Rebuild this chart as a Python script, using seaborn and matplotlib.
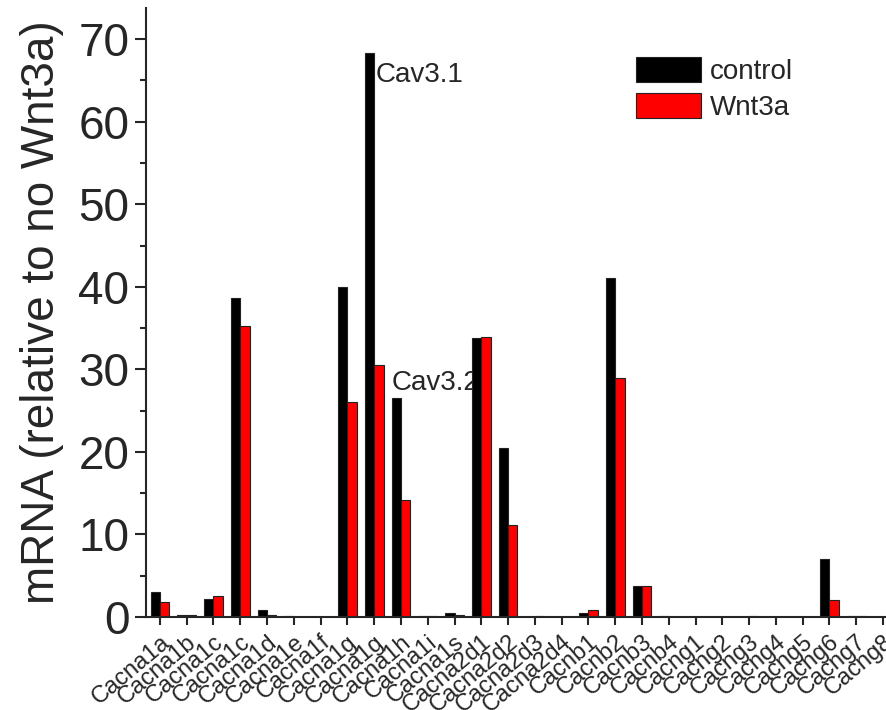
import numpy as np
import pandas as pd
import matplotlib
matplotlib.use("Agg")
import matplotlib.pyplot as plt
import matplotlib.transforms as mtransforms
from matplotlib.ticker import MultipleLocator
import seaborn as sns

genes = ['Cacna1a', 'Cacna1b', 'Cacna1c', 'Cacna1c', 'Cacna1d', 'Cacna1e', 'Cacna1f',
         'Cacna1g', 'Cacna1g', 'Cacna1h', 'Cacna1i', 'Cacna1s',
         'Cacna2d1', 'Cacna2d2', 'Cacna2d3', 'Cacna2d4',
         'Cacnb1', 'Cacnb2', 'Cacnb3', 'Cacnb4',
         'Cacng1', 'Cacng2', 'Cacng3', 'Cacng4', 'Cacng5', 'Cacng6', 'Cacng7', 'Cacng8']

control = [3.0, 0.3, 2.2, 38.6, 0.85, 0.1, 0.05,
           40.0, 68.3, 26.5, 0.1, 0.5,
           33.8, 20.5, 0.05, 0.05,
           0.5, 41.1, 3.7, 0.1,
           0.0, 0.0, 0.05, 0.0, 0.0, 7.0, 0.1, 0.0]

wnt3a = [1.8, 0.3, 2.5, 35.2, 0.3, 0.05, 0.0,
         26.0, 30.5, 14.2, 0.1, 0.3,
         33.9, 11.1, 0.1, 0.0,
         0.8, 29.0, 3.8, 0.05,
         0.0, 0.0, 0.1, 0.0, 0.0, 2.0, 0.1, 0.0]

groups = ['control', 'Wnt3a']
colors = ['#000000', '#ff0000']

# long format, position index keeps the duplicate gene names apart
pos = list(range(len(genes)))
df = pd.DataFrame({
    'pos': pos * 2,
    'value': control + wnt3a,
    'group': [groups[0]] * len(genes) + [groups[1]] * len(genes),
})

sns.set_style('ticks')
plt.rcParams['font.family'] = ['Liberation Sans', 'DejaVu Sans']

fig = plt.figure(figsize=(8.87, 7.1), dpi=100)
ax = fig.add_axes([0.1646, 0.131, 0.8354, 0.858])

sns.barplot(data=df, x='pos', y='value', hue='group', hue_order=groups,
            palette=colors, width=0.7, gap=0, edgecolor='#222222', linewidth=0.8,
            saturation=1, ax=ax, zorder=3)

ax.set_xlim(-0.52, 27.15)
ax.set_ylim(0, 73.8)
ax.yaxis.set_major_locator(MultipleLocator(10))
ax.yaxis.set_minor_locator(MultipleLocator(5))
ax.set_xticks(pos)
ax.set_xticklabels(genes, rotation=40, ha='right', rotation_mode='anchor', fontsize=17)
# nudge labels a little right so they end just past the tick, as in the original
shift = mtransforms.ScaledTranslation(4 / 100, 0, fig.dpi_scale_trans)
for lab in ax.get_xticklabels():
    lab.set_transform(lab.get_transform() + shift)
ax.tick_params(axis='x', length=6, width=1.5, pad=4)
ax.tick_params(axis='y', which='major', length=8, width=1.5, labelsize=33, pad=4)
ax.tick_params(axis='y', which='minor', length=4, width=1.5)
ax.set_xlabel('')
ax.set_ylabel('mRNA (relative to no Wnt3a)', fontsize=33, labelpad=10)

for s in ['top', 'right']:
    ax.spines[s].set_visible(False)
for s in ['left', 'bottom']:
    ax.spines[s].set_linewidth(1.5)
    ax.spines[s].set_zorder(5)

ax.text(8.05, 65.6, 'Cav3.1', fontsize=20, va='center', ha='left', zorder=2)
ax.text(8.66, 28.3, 'Cav3.2', fontsize=20, va='center', ha='left', zorder=2)

ax.legend(loc='upper left', bbox_to_anchor=(0.646, 0.938), frameon=False,
          fontsize=20, handlelength=2.35, handleheight=1.0, handletextpad=0.3,
          labelspacing=0.3, borderaxespad=0)

fig.savefig('out.png', dpi=100)
